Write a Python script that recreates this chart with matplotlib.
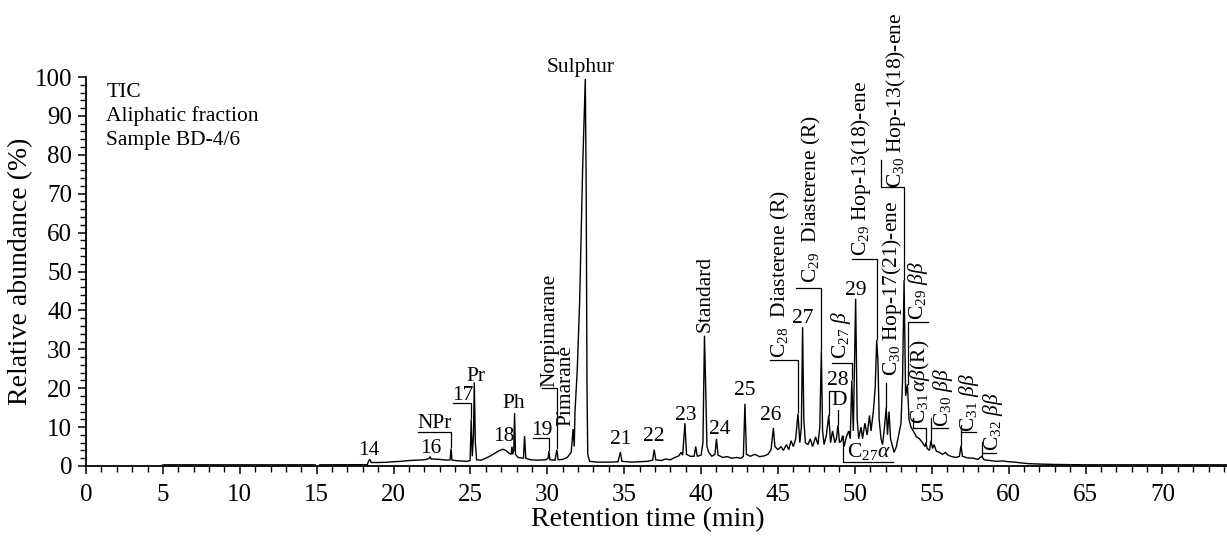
import numpy as np
import matplotlib
matplotlib.use("Agg")
import matplotlib.pyplot as plt
from matplotlib.ticker import MultipleLocator

plt.rcParams['font.family'] = ['Liberation Serif', 'DejaVu Serif']
plt.rcParams['mathtext.fontset'] = 'custom'
plt.rcParams['mathtext.rm'] = 'Liberation Serif'
plt.rcParams['mathtext.it'] = 'Liberation Serif:italic'
plt.rcParams['mathtext.bf'] = 'Liberation Serif:bold'

# ---------------- chromatogram trace (retention time, relative abundance) ----------------
time_min = [
    5.0, 14.9, 15.05, 15.2, 18.3, 18.35, 18.45, 18.55, 19.0, 19.5, 20.0, 20.5, 21.0, 21.5,
    22.0, 22.3, 22.37, 22.45, 23.0, 23.5, 23.68, 23.74, 23.8, 24.3, 24.8, 24.98, 25.05,
    25.12, 25.2, 25.25, 25.32, 25.4, 25.7, 26.0, 26.3, 26.6, 26.9, 27.1, 27.3, 27.5, 27.65,
    27.7, 27.75, 27.82, 27.87, 27.93, 28.1, 28.45, 28.52, 28.6, 28.9, 29.4, 29.9, 30.05,
    30.1, 30.17, 30.5, 30.62, 30.7, 31.0, 31.3, 31.55, 31.68, 31.75, 31.8, 31.95, 32.1,
    32.2, 32.3, 32.38, 32.47, 32.53, 32.58, 32.63, 32.75, 33.2, 33.7, 34.2, 34.6, 34.75,
    34.85, 35.5, 36.0, 36.5, 36.85, 36.95, 37.05, 37.4, 37.7, 38.0, 38.3, 38.55, 38.7,
    38.8, 38.95, 39.05, 39.3, 39.55, 39.65, 39.75, 40.0, 40.12, 40.22, 40.3, 40.38, 40.5,
    40.7, 40.9, 41.0, 41.1, 41.4, 41.7, 42.0, 42.3, 42.6, 42.75, 42.85, 42.95, 43.2, 43.5,
    43.8, 44.1, 44.35, 44.55, 44.7, 44.8, 45.0, 45.2, 45.35, 45.55, 45.7, 45.85, 46.0,
    46.15, 46.3, 46.42, 46.52, 46.6, 46.68, 46.78, 46.95, 47.1, 47.25, 47.45, 47.6, 47.72,
    47.82, 47.9, 48.0, 48.15, 48.3, 48.42, 48.55, 48.7, 48.8, 48.9, 49.0, 49.12, 49.2,
    49.3, 49.45, 49.6, 49.7, 49.8, 49.9, 50.05, 50.15, 50.25, 50.4, 50.5, 50.65, 50.8,
    50.95, 51.05, 51.2, 51.32, 51.42, 51.5, 51.58, 51.7, 51.8, 51.9, 52.04, 52.12, 52.22,
    52.32, 52.45, 52.55, 52.7, 52.85, 53.0, 53.1, 53.2, 53.3, 53.42, 53.52, 53.65, 53.8,
    54.0, 54.2, 54.4, 54.55, 54.62, 54.7, 54.85, 54.95, 55.05, 55.15, 55.3, 55.5, 55.7,
    55.9, 56.05, 56.3, 56.6, 56.8, 56.9, 57.0, 57.3, 57.7, 58.0, 58.25, 58.4, 58.8, 59.2,
    59.6, 60.0, 60.4, 60.8, 61.3, 62.0, 63.0, 65.0, 74.2,
]
abundance = [
    0.3, 0.3, np.nan, 0.3, 0.35, 1.0, 1.7, 0.9, 0.9, 0.95, 1.1, 1.2, 1.4, 1.5,
    1.6, 1.9, 2.4, 1.8, 1.7, 1.5, 1.6, 4.5, 1.5, 1.3, 1.2, 1.4, 12.0,
    2.5, 8.0, 21.5, 6.0, 1.6, 1.5, 2.0, 2.6, 3.3, 4.0, 4.3, 4.0, 3.3, 3.0,
    5.0, 3.0, 4.0, 13.6, 3.0, 2.2, 2.0, 7.7, 2.0, 1.6, 1.5, 1.6, 2.0,
    3.8, 1.6, 1.5, 4.2, 1.6, 1.7, 2.2, 3.5, 9.5, 5.0, 14.0, 25.0, 42.0,
    60.0, 77.0, 88.0, 99.5, 70.0, 20.0, 3.0, 1.2, 1.0, 1.0, 1.0, 1.1, 3.6,
    1.2, 1.0, 1.1, 1.2, 1.5, 4.2, 1.6, 1.4, 1.8, 1.6, 2.2, 2.6, 3.5,
    2.8, 11.0, 3.0, 2.5, 2.5, 5.0, 2.5, 2.8, 6.0, 33.5, 20.0, 5.0, 3.5,
    2.5, 3.0, 7.0, 2.8, 2.2, 2.4, 2.0, 2.2, 2.0, 2.5, 16.0, 3.0, 2.5, 3.0,
    2.4, 2.6, 3.0, 4.2, 9.8, 5.0, 4.2, 5.0, 4.0, 5.5, 4.2, 6.5, 5.0,
    7.0, 13.5, 6.0, 10.0, 35.7, 12.0, 6.0, 5.5, 7.0, 5.0, 7.5, 5.5, 10.0,
    29.5, 9.0, 5.5, 8.0, 13.0, 6.0, 9.0, 6.0, 7.0, 10.5, 6.0, 6.5, 7.8,
    5.0, 7.5, 9.0, 7.0, 22.0, 9.0, 43.0, 12.0, 7.0, 10.0, 7.0, 11.0, 8.0,
    13.0, 9.0, 14.0, 20.0, 32.4, 27.0, 12.0, 7.0, 5.5, 9.0, 15.0, 8.0, 14.0,
    7.0, 5.0, 3.5, 5.0, 8.0, 11.0, 22.0, 47.8, 18.0, 21.0, 12.0, 10.0, 9.0,
    7.5, 7.0, 6.0, 5.0, 6.0, 4.5, 4.0, 6.5, 4.5, 5.5, 3.8, 3.5, 3.0,
    3.5, 2.8, 2.4, 2.2, 2.5, 5.2, 2.5, 2.1, 2.0, 1.7, 2.5, 1.6, 1.4, 1.2,
    1.3, 1.1, 1.0, 0.8, 0.6, 0.5, 0.4, 0.3, 0.3,
]

# ---------------- annotation texts ----------------
info_lines = ["TIC", "Aliphatic fraction", "Sample BD-4/6"]

peak_numbers = ["14", "16", "NPr", "17", "Pr", "Ph", "18", "19", "Sulphur", "21", "22",
                "23", "24", "25", "26", "27", "28", "D", "29", r"C$_{27}\mathit{\alpha}$"]
peak_number_pos = [(18.41, 4.1), (22.44, 4.6), (22.7, 11.05), (24.48, 18.25), (25.33, 23.1),
                   (27.83, 16.1), (27.15, 7.6), (29.65, 9.25), (32.15, 102.4), (34.78, 6.8),
                   (36.93, 7.7), (39.0, 13.1), (41.21, 9.3), (42.85, 19.3), (44.53, 12.9),
                   (46.61, 37.9), (48.91, 22.1), (48.95, 16.8), (50.05, 45.2), (50.9, 3.6)]

compound_labels = ["Norpimarane", "Pimarane", "Standard",
                   r"C$_{28}$  Diasterene (R)", r"C$_{29}$  Diasterene (R)",
                   r"C$_{27}$ $\mathit{\beta}$", r"C$_{29}$ Hop-13(18)-ene",
                   r"C$_{30}$ Hop-17(21)-ene", r"C$_{30}$ Hop-13(18)-ene",
                   r"C$_{29}$ $\mathit{\beta\beta}$", r"C$_{31}\,\mathit{\alpha\beta}$(R)",
                   r"C$_{30}$ $\mathit{\beta\beta}$", r"C$_{31}$ $\mathit{\beta\beta}$",
                   r"C$_{32}$ $\mathit{\beta\beta}$"]
compound_pos = [(30.17, 34.8), (31.2, 20.6), (40.24, 44.3), (45.18, 49.4), (47.16, 68.6),
                (49.07, 33.7), (50.42, 76.5), (52.43, 45.7), (52.7, 94.1), (54.1, 45.2),
                (54.25, 21.6), (55.72, 17.7), (57.4, 16.3), (58.96, 11.3)]

leader_lines = [
    [(21.6, 8.8), (23.74, 8.8), (23.74, 4.8)],                 # NPr
    [(23.87, 16.1), (25.04, 16.1), (25.04, 12.3)],             # 17
    [(29.07, 7.3), (30.1, 7.3), (30.1, 4.0)],                  # 19
    [(29.63, 20.0), (30.65, 20.0), (30.65, 4.5)],              # Norpimarane
    [(44.47, 27.2), (46.3, 27.2), (46.3, 13.8)],               # C28 diasterene
    [(46.15, 45.8), (47.82, 45.8), (47.82, 29.8)],             # C29 diasterene
    [(49.0, 19.4), (48.3, 19.4), (48.3, 13.2)],                # 28
    [(48.9, 14.3), (48.9, 10.8)],                              # D
    [(48.49, 26.6), (49.8, 26.6), (49.8, 22.3)],               # C27 beta
    [(49.2, 7.6), (49.2, 1.0), (52.45, 1.0)],                  # C27 alpha
    [(49.79, 53.2), (51.42, 53.2), (51.42, 32.6)],             # C29 Hop-13(18)
    [(52.04, 21.3), (52.04, 15.2)],                            # C30 Hop-17(21)
    [(51.68, 78.7), (51.68, 71.7), (53.2, 71.7), (53.2, 48.0)],  # C30 Hop-13(18)
    [(54.73, 37.1), (53.45, 37.1), (53.45, 21.2)],             # C29 bb
    [(53.76, 12.3), (53.76, 9.8), (54.62, 9.8), (54.62, 6.2)],  # C31 ab (R)
    [(56.03, 9.8), (54.95, 9.8)], [(54.95, 12.3), (54.95, 6.7)],  # C30 bb
    [(57.85, 8.8), (56.92, 8.8)], [(56.92, 10.5), (56.92, 5.4)],  # C31 bb
    [(59.15, 3.4), (58.3, 3.4)], [(58.3, 6.2), (58.3, 2.6)],      # C32 bb
]

# ---------------- figure ----------------
fig = plt.figure(figsize=(12.27, 5.36), dpi=100)
ax = fig.add_axes([86 / 1227, 70 / 536, (1227 - 86) / 1227, (466 - 77) / 536])

ax.plot(time_min, abundance, color='black', lw=1.0, solid_joinstyle='miter')

ax.set_xlim(0, 74.2)
ax.set_ylim(0, 100)
for s in ['top', 'right']:
    ax.spines[s].set_visible(False)
for s in ['left', 'bottom']:
    ax.spines[s].set_linewidth(1.3)

ax.xaxis.set_major_locator(MultipleLocator(5))
ax.xaxis.set_minor_locator(MultipleLocator(1))
ax.yaxis.set_major_locator(MultipleLocator(10))
ax.yaxis.set_minor_locator(MultipleLocator(2))
ax.tick_params(which='major', direction='out', length=6, width=1.1, labelsize=18, pad=4)
ax.tick_params(which='minor', direction='out', length=4, width=1.0)
ax.tick_params(axis='x', which='major', pad=7)

ax.set_xlabel("Retention time (min)", fontsize=20)
ax.set_ylabel("Relative abundance (%)", fontsize=20)
ax.xaxis.set_label_coords(0.492, -0.105)
ax.yaxis.set_label_coords(-0.046, 0.5)

# info block
for i, line in enumerate(info_lines):
    ax.text(1.33, 96.0 - 6.1 * i, line, fontsize=15.5, ha='left', va='center')

txt_size = 15.5
for lab, (x, y) in zip(peak_numbers, peak_number_pos):
    ax.text(x, y, lab, fontsize=txt_size, ha='center', va='center', clip_on=False)

for lab, (x, y) in zip(compound_labels, compound_pos):
    ax.text(x, y, lab, fontsize=txt_size, ha='center', va='center', rotation=90,
            clip_on=False)

for seg in leader_lines:
    xs, ys = zip(*seg)
    ax.plot(xs, ys, color='black', lw=0.9, clip_on=False)

fig.savefig("out.png", dpi=100)
